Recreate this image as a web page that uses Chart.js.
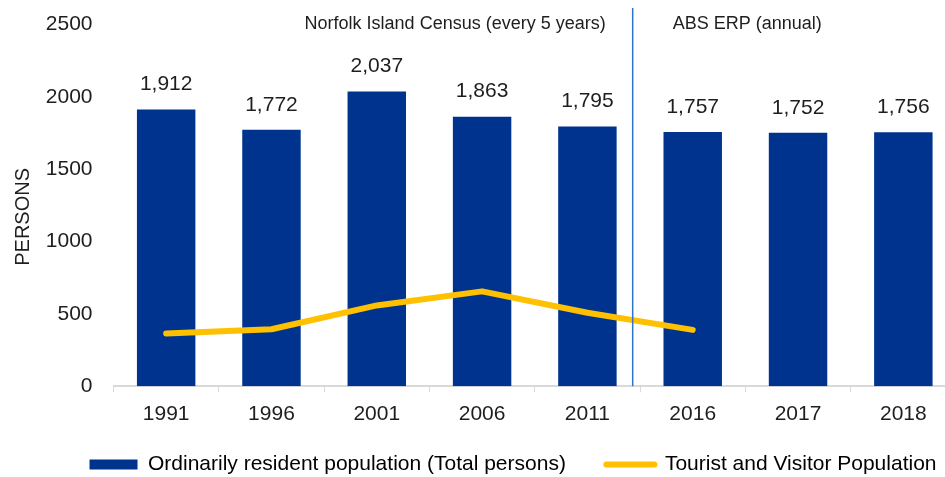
<!DOCTYPE html>
<html>
<head>
<meta charset="utf-8">
<script src="https://cdn.jsdelivr.net/npm/chart.js@4/dist/chart.umd.min.js"></script>
<style>
html,body{margin:0;padding:0;background:#fff;overflow:hidden;}
#wrap{position:relative;width:960px;height:477px;}
</style>
</head>
<body>
<div id="wrap"><canvas id="c" width="960" height="477"></canvas></div>
<script>
const categories = ['1991','1996','2001','2006','2011','2016','2017','2018'];
const residentPopulation = [1912, 1772, 2037, 1863, 1795, 1757, 1752, 1756];
const touristPopulation = [365, 394, 559, 656, 508, 390, null, null];
const yTicks = [0, 500, 1000, 1500, 2000, 2500];
const seriesNames = ['Ordinarily resident population (Total persons)', 'Tourist and Visitor Population'];
const sectionLabels = ['Norfolk Island Census (every 5 years)', 'ABS ERP (annual)'];
const yTitle = 'PERSONS';
const DIVIDER_POS = 4.43; // category-index position of the divider between census and ERP sections

const BLUE = '#00338D';
const YELLOW = '#FFC000';
const TEXT = '#1e1e1e';
const FONT = "'Liberation Sans', Arial, sans-serif";

const fmt = v => v.toLocaleString('en-US');

const overlayPlugin = {
  id: 'overlay',
  afterLayout(chart) {
    const lg = chart.legend;
    if (lg) { lg.left += 35; lg.right += 35; lg.top -= 22; lg.bottom -= 22; }
  },
  afterDatasetsDraw(chart) {
    const ctx = chart.ctx;
    const xs = chart.scales.x;
    const area = chart.chartArea;
    // data labels
    const meta = chart.getDatasetMeta(1);
    ctx.save();
    ctx.font = '21px ' + FONT;
    ctx.fillStyle = TEXT;
    ctx.textAlign = 'center';
    ctx.textBaseline = 'middle';
    meta.data.forEach((bar, i) => {
      ctx.fillText(fmt(residentPopulation[i]), bar.x, bar.y - 25);
    });
    // divider
    const p4 = xs.getPixelForValue(4), p5 = xs.getPixelForValue(5);
    const dx = p4 + (DIVIDER_POS - 4) * (p5 - p4);
    ctx.strokeStyle = '#2E74C8';
    ctx.lineWidth = 1.5;
    ctx.beginPath();
    ctx.moveTo(dx, 8);
    ctx.lineTo(dx, area.bottom);
    ctx.stroke();
    ctx.font = '18px ' + FONT;
    ctx.textAlign = 'right';
    ctx.fillText(sectionLabels[0], dx - 27, 24);
    ctx.textAlign = 'left';
    ctx.fillText(sectionLabels[1], dx + 40, 24);
    // y-axis title
    ctx.font = '20px ' + FONT;
    ctx.textAlign = 'center';
    ctx.translate(23, (area.top + area.bottom) / 2 + 11.5);
    ctx.rotate(-Math.PI / 2);
    ctx.fillText(yTitle, 0, 0);
    ctx.restore();
  }
};

new Chart(document.getElementById('c'), {
  data: {
    labels: categories,
    datasets: [
      {
        type: 'line',
        label: seriesNames[1],
        data: touristPopulation,
        borderColor: YELLOW,
        backgroundColor: YELLOW,
        borderWidth: 6,
        borderCapStyle: 'round',
        borderJoinStyle: 'round',
        pointRadius: 0,
        tension: 0,
        spanGaps: false,
        order: 0
      },
      {
        type: 'bar',
        label: seriesNames[0],
        data: residentPopulation,
        backgroundColor: BLUE,
        borderWidth: 0,
        categoryPercentage: 1,
        barPercentage: 0.555,
        order: 1
      }
    ]
  },
  options: {
    responsive: false,
    devicePixelRatio: 1,
    animation: false,
    layout: { padding: { left: 0, right: 4, top: 24.5, bottom: -30 } },
    plugins: {
      tooltip: { enabled: false },
      legend: {
        position: 'bottom',
        labels: {
          usePointStyle: true,
          boxWidth: 48,
          boxHeight: 10,
          pointStyleWidth: 48,
          padding: 40.5,
          color: TEXT,
          font: { family: FONT, size: 21 },
          generateLabels() {
            return [
              { text: seriesNames[0], pointStyle: 'rect', fillStyle: BLUE, strokeStyle: BLUE, lineWidth: 0, datasetIndex: 1 },
              { text: seriesNames[1], pointStyle: 'line', fillStyle: YELLOW, strokeStyle: YELLOW, lineWidth: 6, lineCap: 'round', datasetIndex: 0 }
            ];
          }
        }
      }
    },
    scales: {
      x: {
        offset: true,
        grid: { display: true, drawOnChartArea: false, drawTicks: true, tickLength: 6, color: '#d9d9d9', offset: true },
        border: { display: true, color: '#d9d9d9', width: 2 },
        ticks: { color: TEXT, font: { family: FONT, size: 21 }, padding: 9 }
      },
      y: {
        min: 0,
        max: 2500,
        afterBuildTicks(scale) { scale.ticks = yTicks.map(v => ({ value: v })); },
        afterFit(scale) { scale.width = 113.5; },
        grid: { display: false, drawTicks: true, tickLength: 21 },
        border: { display: false },
        ticks: { color: TEXT, font: { family: FONT, size: 21 }, padding: 0, callback: v => String(v) },
        title: { display: false }
      }
    }
  },
  plugins: [overlayPlugin]
});
</script>
</body>
</html>
